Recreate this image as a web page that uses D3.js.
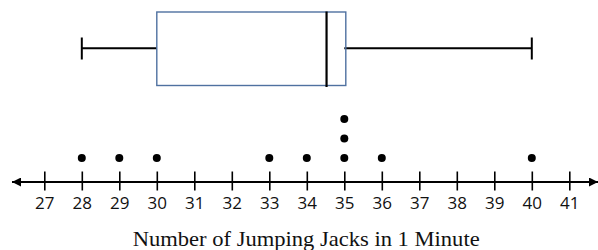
<!DOCTYPE html>
<html>
<head>
<meta charset="utf-8">
<script src="https://cdn.jsdelivr.net/npm/d3@7"></script>
<style>
html,body{margin:0;padding:0;background:#fff;}
svg{display:block;}
</style>
</head>
<body>
<svg id="chart" width="598" height="250"></svg>
<script>
// Data
const tickValues = [27,28,29,30,31,32,33,34,35,36,37,38,39,40,41];
const dotValues = [28,29,30,33,34,35,35,35,36,40];
const boxMin = [28];
const boxQ1 = [30];
const boxMedian = [34.5];
const boxQ3 = [35];
const boxMax = [40];
const axisTitle = ["Number of Jumping Jacks in 1 Minute"];

const svg = d3.select("#chart");
const x = d3.scaleLinear().domain([27,41]).range([44.3,569.3]);

const axisY = 182;
svg.append("defs").append("marker")
  .attr("id","arr").attr("viewBox","0 0 10 10").attr("refX",10).attr("refY",5)
  .attr("markerWidth",9).attr("markerHeight",9).attr("markerUnits","userSpaceOnUse")
  .attr("orient","auto-start-reverse")
  .append("path").attr("d","M0,0L10,5L0,10Z").attr("fill","#000");

svg.append("line").attr("x1",12).attr("x2",598).attr("y1",axisY).attr("y2",axisY)
  .attr("stroke","#000").attr("stroke-width",2)
  .attr("marker-start","url(#arr)").attr("marker-end","url(#arr)");

const axis = d3.axisBottom(x).tickValues(tickValues).tickFormat(d3.format("d"))
  .tickSizeInner(0).tickSizeOuter(0).tickPadding(0);
const ag = svg.append("g").attr("transform",`translate(0,${axisY})`).call(axis);
ag.select(".domain").remove();
ag.selectAll(".tick line").attr("y1",-10.5).attr("y2",8.5).attr("stroke","#000").attr("stroke-width",1.6);
ag.selectAll(".tick text").attr("y",26.5).attr("dy",0)
  .attr("font-family","'Open Sans', sans-serif").attr("font-size",17).attr("fill","#111");

// dots stacked
const counts = {};
const dots = dotValues.map(v => { counts[v] = (counts[v]||0)+1; return {v, k: counts[v]-1}; });
svg.append("g").selectAll("circle").data(dots).join("circle")
  .attr("cx",d=>x(d.v)).attr("cy",d=>158 - d.k*19.5).attr("r",4).attr("fill","#000");

// box plot
const boxTop = 12, boxBot = 85.5, mid = 48.3;
const g = svg.append("g");
g.append("line").attr("x1",x(boxMin[0])).attr("x2",x(boxQ1[0])).attr("y1",mid).attr("y2",mid)
  .attr("stroke","#000").attr("stroke-width",2);
g.append("line").attr("x1",x(boxQ3[0])).attr("x2",x(boxMax[0])).attr("y1",mid).attr("y2",mid)
  .attr("stroke","#000").attr("stroke-width",2);
g.append("line").attr("x1",x(boxMin[0])).attr("x2",x(boxMin[0])).attr("y1",37.5).attr("y2",59.5)
  .attr("stroke","#000").attr("stroke-width",2);
g.append("line").attr("x1",x(boxMax[0])).attr("x2",x(boxMax[0])).attr("y1",37.5).attr("y2",59.5)
  .attr("stroke","#000").attr("stroke-width",2);
g.append("rect").attr("x",x(boxQ1[0])).attr("y",boxTop)
  .attr("width",x(boxQ3[0])+1.5-x(boxQ1[0])).attr("height",boxBot-boxTop)
  .attr("fill","none").attr("stroke","#4f71a0").attr("stroke-width",1.4);
g.append("line").attr("x1",x(boxMedian[0])+1).attr("x2",x(boxMedian[0])+1).attr("y1",11.5).attr("y2",87)
  .attr("stroke","#000").attr("stroke-width",2.2);

// title
svg.append("text").attr("x",132.7).attr("y",246).attr("text-anchor","start")
  .attr("font-family","'Liberation Serif', 'Times New Roman', serif").attr("font-size",22)
  .attr("textLength",347).attr("lengthAdjust","spacingAndGlyphs")
  .attr("fill","#111").text(axisTitle[0]);
</script>
</body>
</html>
